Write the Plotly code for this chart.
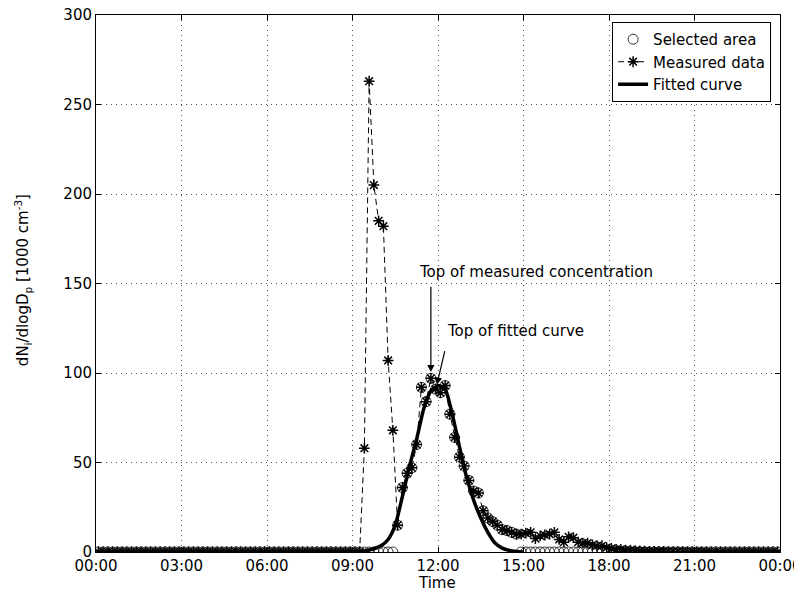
import plotly.graph_objects as go

# ---------------- data ----------------
tick_hours = [0, 3, 6, 9, 12, 15, 18, 21, 24]
tick_labels = ["00:00", "03:00", "06:00", "09:00", "12:00", "15:00", "18:00", "21:00", "00:00"]
y_ticks = [0, 50, 100, 150, 200, 250, 300]

# sample times: every 10 minutes starting 00:05 (minutes of day)
sample_minutes = list(range(5, 1440, 10))

measured_values = (
    [0] * 56
    + [58, 263, 205, 185, 182, 107, 68, 15, 36, 44,
       47, 60, 92, 84, 97, 91, 89, 93, 77, 64,
       53, 48, 40, 34, 33, 23, 19, 17, 15, 12.5,
       12, 11, 10, 10, 10.5, 11, 7.5, 9, 9.5, 10,
       11, 7, 5.5, 8.5, 8, 5.5, 5, 5, 4, 3.5,
       3.5, 2.5, 2, 1.5, 1.5, 1, 1, 0.8, 0.6, 0.5]
    + [0.4, 0.3, 0.3, 0.3, 0.2, 0.2, 0.2, 0.2, 0.1, 0.1, 0.1, 0.1]
    + [0] * 16
)

selected_start_min = 635   # 10:35
selected_end_min = 885     # 14:45

fit_hours = [9.0, 9.25, 9.5, 9.75, 10.0, 10.25, 10.5, 10.75, 11.0, 11.25, 11.5, 11.75,
             12.0, 12.25, 12.5, 12.75, 13.0, 13.25, 13.5, 13.75, 14.0, 14.25, 14.5, 14.75, 15.0]
fit_values = [0, 0.3, 0.8, 1.8, 3.5, 7, 15, 31, 48, 63, 80, 90,
              93, 91, 77, 59, 42, 29, 19, 11, 5, 2.2, 0.9, 0.3, 0]

# ---------------- derived ----------------
sample_hours = [m / 60.0 for m in sample_minutes]
selected_values = [v if selected_start_min <= m <= selected_end_min else 0
                   for m, v in zip(sample_minutes, measured_values)]

FONT = "DejaVu Sans"

fig = go.Figure()
fig.add_trace(go.Scatter(
    x=sample_hours, y=selected_values, mode="markers", name="Selected area",
    marker=dict(symbol="circle-open", size=10, color="#333333", line=dict(width=1, color="#333333")),
))
fig.add_trace(go.Scatter(
    x=sample_hours, y=measured_values, mode="lines+markers", name="Measured data",
    line=dict(color="black", width=1, dash="6px,4px"),
    marker=dict(symbol="asterisk-open", size=9, color="black", line=dict(width=1.5, color="black")),
))
fig.add_trace(go.Scatter(
    x=fit_hours, y=fit_values, mode="lines", name="Fitted curve",
    line=dict(color="black", width=3.5, shape="spline", smoothing=0.6),
))

axis_common = dict(
    showline=True, linecolor="black", linewidth=1, mirror="ticks",
    ticks="inside", ticklen=5, tickcolor="black", tickwidth=1,
    showgrid=True, gridcolor="#555555", gridwidth=1, griddash="1px,4px",
    zeroline=False, automargin=False, ticklabeloverflow="allow",
    tickfont=dict(family=FONT, size=15, color="black"),
)

fig.update_xaxes(range=[0, 24], tickmode="array", tickvals=tick_hours, ticktext=tick_labels, **axis_common)
fig.update_yaxes(range=[0, 300], tickmode="array", tickvals=y_ticks, **axis_common)

fig.add_annotation(text="dN<sub>i</sub>/dlogD<sub>p</sub> [1000 cm<sup>-3</sup>]",
                   xref="paper", yref="paper", x=-0.108, y=0.5065, textangle=-90,
                   xanchor="center", yanchor="middle", showarrow=False,
                   font=dict(family=FONT, size=15, color="black"))
fig.add_annotation(text="Time", xref="paper", yref="paper", x=0.4985, y=-0.058,
                   xanchor="center", yanchor="middle", showarrow=False,
                   font=dict(family=FONT, size=15, color="black"))

# annotation texts
fig.add_annotation(text="Top of measured concentration", x=11.26, y=156.5, xref="x", yref="y",
                   xanchor="left", yanchor="middle", showarrow=False,
                   font=dict(family=FONT, size=15, color="black"))
fig.add_annotation(text="Top of fitted curve", x=12.25, y=123.5, xref="x", yref="y",
                   xanchor="left", yanchor="middle", showarrow=False,
                   font=dict(family=FONT, size=15, color="black"))
# arrows
fig.add_annotation(text="", x=11.75, y=100.5, ax=11.75, ay=149, xref="x", yref="y",
                   axref="x", ayref="y", showarrow=True, arrowhead=2, arrowsize=1.2,
                   arrowwidth=1.2, arrowcolor="black")
fig.add_annotation(text="", x=11.96, y=93.5, ax=12.25, ay=113, xref="x", yref="y",
                   axref="x", ayref="y", showarrow=True, arrowhead=2, arrowsize=1.2,
                   arrowwidth=1.2, arrowcolor="black")

fig.update_layout(
    width=802, height=597, autosize=False,
    margin=dict(l=88, r=30, t=7, b=53),
    paper_bgcolor="white", plot_bgcolor="white",
    font=dict(family=FONT, size=15, color="black"),
    showlegend=True,
    legend=dict(x=0.987, y=0.987, xanchor="right", yanchor="top",
                bgcolor="white", bordercolor="black", borderwidth=1,
                font=dict(family=FONT, size=15, color="black"),
                tracegroupgap=0, itemwidth=30),
)

fig.write_html("out.html")
